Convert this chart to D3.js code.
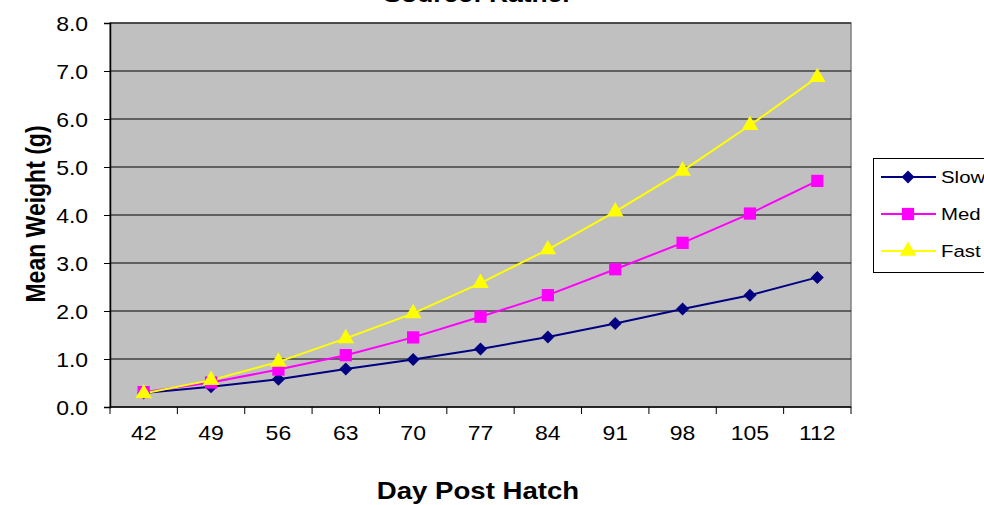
<!DOCTYPE html>
<html lang="en">
<head>
    <meta charset="utf-8">
    <title>Mean weight by day post hatch</title>
    <script type="text/javascript" src="https://cdn.jsdelivr.net/npm/d3@7"></script>
    <style type="text/css">
        body { margin: 0; background: #fff; overflow: hidden; }
        svg { font-family: "Liberation Sans", Arial, sans-serif; }
    </style>
</head>
<body>
<script type="text/javascript">

    var days = ["42", "49", "56", "63", "70", "77", "84", "91", "98", "105", "112"];
    var slow = [0.29, 0.42, 0.58, 0.79, 0.99, 1.21, 1.46, 1.74, 2.04, 2.33, 2.70];
    var med  = [0.31, 0.51, 0.78, 1.08, 1.45, 1.88, 2.33, 2.87, 3.42, 4.03, 4.71];
    var fast = [0.28, 0.56, 0.94, 1.43, 1.95, 2.58, 3.28, 4.07, 4.92, 5.87, 6.87];
    var yTicks = [0, 1, 2, 3, 4, 5, 6, 7, 8];

    // diamond = square turned 45 degrees
    var series = [
        { name: "Slow", values: slow, color: "#000080", shape: d3.symbolSquare,   size: 85,  rot: 45 },
        { name: "Med",  values: med,  color: "#FF00FF", shape: d3.symbolSquare,   size: 150, rot: 0 },
        { name: "Fast", values: fast, color: "#FFFF00", shape: d3.symbolTriangle, size: 120, rot: 0 }
    ];

    var W = 984, H = 505;
    var plotL = 110, plotR = 851, plotT = 23, plotB = 407;
    var stretch = "scale(1.2,1)";   // original chart was widened

    var svg = d3.select("body").append("svg")
        .attr("width", W)
        .attr("height", H);

    var x = d3.scaleBand().domain(days).range([plotL, plotR]);
    var y = d3.scaleLinear().domain([0, 8]).range([plotB, plotT]);

    // plot background
    svg.append("rect")
        .attr("x", plotL).attr("y", plotT)
        .attr("width", plotR - plotL).attr("height", plotB - plotT)
        .attr("fill", "#C0C0C0")
        .attr("stroke", "#808080")
        .attr("stroke-width", 1.5);

    // gridlines
    svg.append("g")
        .selectAll("line")
        .data(yTicks.slice(1))
        .enter().append("line")
        .attr("x1", plotL).attr("x2", plotR)
        .attr("y1", function(d) { return y(d); })
        .attr("y2", function(d) { return y(d); })
        .attr("stroke", "#000")
        .attr("stroke-width", 1);

    var yAxis = svg.append("g")
        .attr("transform", "translate(" + plotL + ",0)")
        .call(d3.axisLeft(y).tickValues(yTicks).tickFormat(d3.format(".1f")).tickSize(6).tickPadding(13));

    var xAxis = svg.append("g")
        .attr("transform", "translate(0," + plotB + ")")
        .call(d3.axisBottom(x).tickSize(0).tickPadding(19));

    // x tick marks sit on band edges
    xAxis.selectAll(".edge")
        .data(days.concat(["end"]))
        .enter().append("line")
        .attr("class", "edge")
        .attr("x1", function(d, i) { return plotL + i * x.step(); })
        .attr("x2", function(d, i) { return plotL + i * x.step(); })
        .attr("y1", 0).attr("y2", 7)
        .attr("stroke", "#000");

    [yAxis, xAxis].forEach(function(a) {
        a.selectAll(".domain").attr("stroke", "#000").attr("stroke-width", 1.5);
        a.selectAll(".tick line").attr("stroke", "#000");
        a.selectAll("text")
            .attr("font-size", 20)
            .attr("fill", "#000")
            .attr("font-family", "Liberation Sans, Arial, sans-serif")
            .attr("transform", "scale(1.15,1)");
    });
    yAxis.selectAll("text").attr("dy", "0.36em");
    xAxis.select(".domain").attr("d", "M" + plotL + ",0H" + plotR);

    var line = d3.line()
        .x(function(d, i) { return x(days[i]) + x.bandwidth() / 2; })
        .y(function(d) { return y(d); });

    series.forEach(function(s) {
        svg.append("path")
            .datum(s.values)
            .attr("d", line)
            .attr("fill", "none")
            .attr("stroke", s.color)
            .attr("stroke-width", 2);
    });

    series.forEach(function(s) {
        svg.append("g")
            .selectAll("path")
            .data(s.values)
            .enter().append("path")
            .attr("transform", function(d, i) {
                return "translate(" + (x(days[i]) + x.bandwidth() / 2) + "," + y(d) + ") rotate(" + s.rot + ")";
            })
            .attr("d", d3.symbol().type(s.shape).size(s.size))
            .attr("fill", s.color);
    });

    // title, clipped at top of page
    svg.append("text")
        .attr("transform", "translate(478,2) " + stretch)
        .attr("text-anchor", "middle")
        .attr("font-size", 22)
        .attr("font-weight", "bold")
        .text("Source: Ratner");

    svg.append("text")
        .attr("transform", "translate(45,214) " + stretch + " rotate(-90)")
        .attr("text-anchor", "middle")
        .attr("font-size", 23)
        .attr("font-weight", "bold")
        .text("Mean Weight (g)");

    svg.append("text")
        .attr("transform", "translate(478,499) " + stretch)
        .attr("text-anchor", "middle")
        .attr("font-size", 23)
        .attr("font-weight", "bold")
        .text("Day Post Hatch");

    // legend
    var legend = svg.append("g");
    legend.append("rect")
        .attr("x", 873.5).attr("y", 158.5)
        .attr("width", 130).attr("height", 114)
        .attr("fill", "#fff")
        .attr("stroke", "#000");

    var item = legend.selectAll(".item")
        .data(series)
        .enter().append("g")
        .attr("class", "item")
        .attr("transform", function(d, i) { return "translate(0," + (177 + i * 37) + ")"; });

    item.append("line")
        .attr("x1", 881).attr("x2", 936)
        .attr("stroke", function(d) { return d.color; })
        .attr("stroke-width", 2);
    item.append("path")
        .attr("transform", function(d) { return "translate(908,0) rotate(" + d.rot + ")"; })
        .attr("d", function(d) { return d3.symbol().type(d.shape).size(d.size)(); })
        .attr("fill", function(d) { return d.color; });
    item.append("text")
        .attr("transform", "translate(941,0) " + stretch)
        .attr("dy", "0.36em")
        .attr("font-size", 17)
        .text(function(d) { return d.name; });

</script>
</body>
</html>
